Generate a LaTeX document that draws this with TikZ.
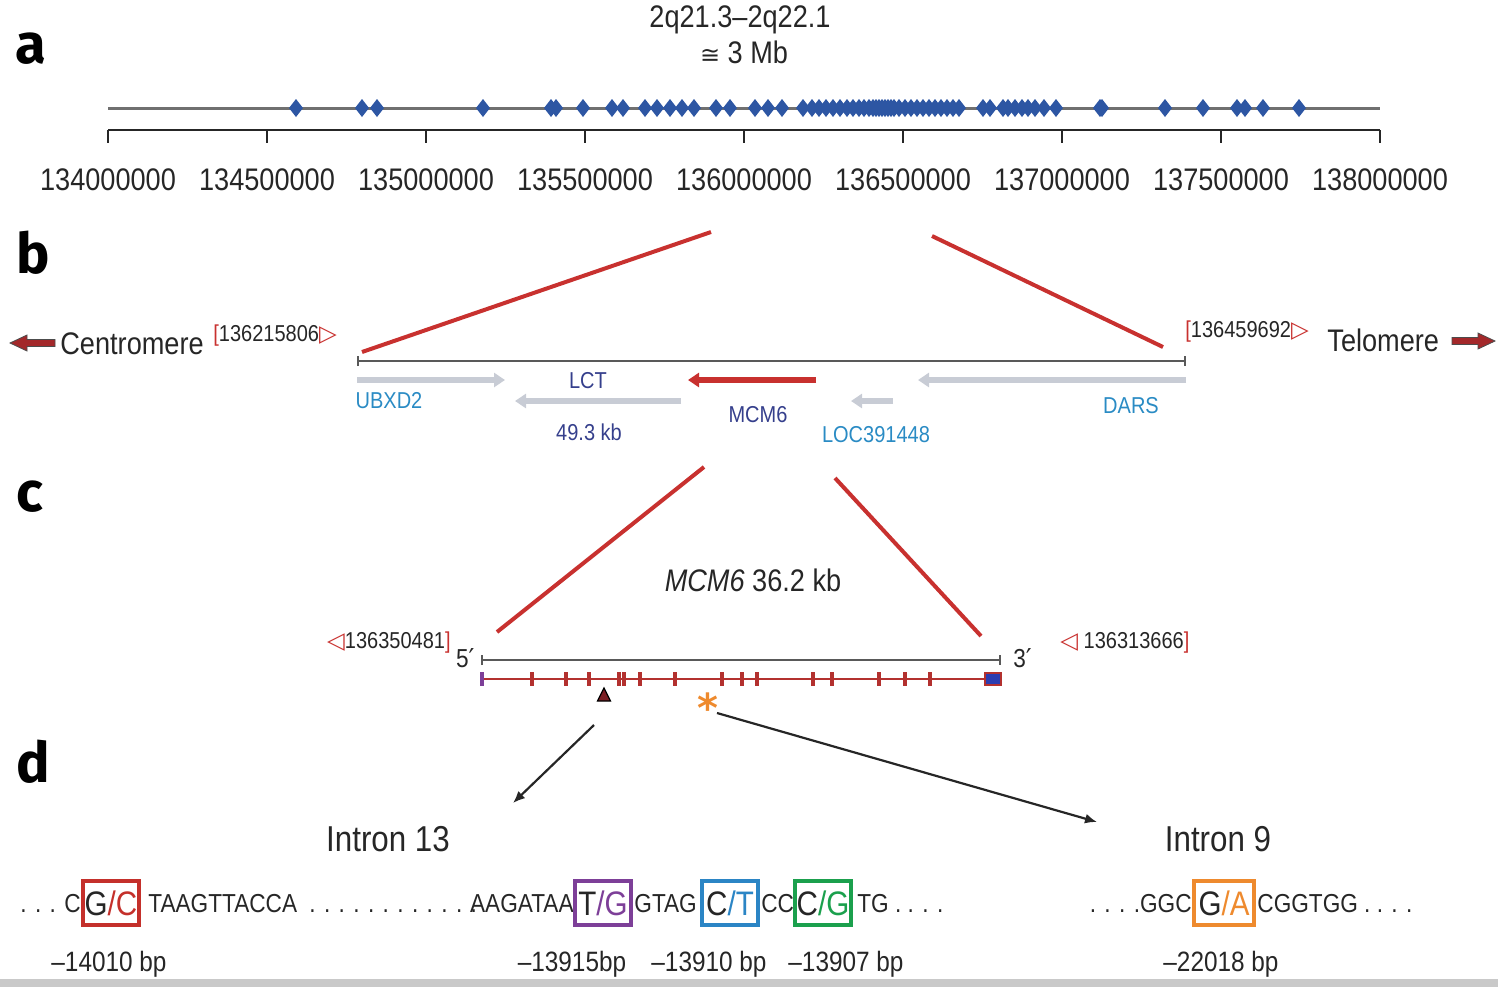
\documentclass[tikz,border=0pt]{standalone}
\usepackage{fontspec}
\setmainfont{Liberation Sans}[FakeStretch=0.87]
\newfontfamily\panelfont{Fira Sans}
\newfontfamily\symfont{DejaVu Sans}
\usetikzlibrary{arrows.meta}

\definecolor{zoomred}{HTML}{C8312F}
\definecolor{snpblue}{HTML}{2D56A3}
\definecolor{chromgray}{HTML}{707070}
\definecolor{genegray}{HTML}{C8CCD5}
\definecolor{geneblue}{HTML}{2A8BC4}
\definecolor{genenavy}{HTML}{353F8C}
\definecolor{exonred}{HTML}{B3312F}
\definecolor{exonblue}{HTML}{2C3DB0}
\definecolor{tridark}{HTML}{7B1F24}
\definecolor{darkarrow}{HTML}{A3282A}
\definecolor{boxred}{HTML}{C4302B}
\definecolor{boxpurple}{HTML}{7D3F98}
\definecolor{boxblue}{HTML}{2B85C5}
\definecolor{boxgreen}{HTML}{1BA04D}
\definecolor{boxorange}{HTML}{EE8A2E}
\definecolor{stripgray}{HTML}{C9C9C9}

\newcommand{\rtri}{{\symfont\textcolor{zoomred}{▷}}}
\newcommand{\ltri}{{\symfont\textcolor{zoomred}{◁}}}

\tikzset{
  panel/.style={font=\panelfont\bfseries\fontsize{28}{28}\selectfont, inner sep=0pt},
  bigtext/.style={font=\fontsize{15.6}{18}\selectfont, inner sep=0pt, text=black!85},
  coordtext/.style={font=\fontsize{11.5}{13}\selectfont, inner sep=0pt, text=black!85},
  genelbl/.style={font=\fontsize{11.5}{13}\selectfont, inner sep=0pt, anchor=base},
  seqtext/.style={font=\fontsize{13}{15}\selectfont, inner sep=0pt, text=black!85},
  bptext/.style={font=\fontsize{14}{16}\selectfont, inner sep=0pt, anchor=base, text=black!85},
  introntext/.style={font=\fontsize{18}{20}\selectfont, inner sep=0pt, anchor=base, text=black!85},
  snpbox/.style={font=\fontsize{17}{19}\selectfont, inner sep=0pt, line width=1.8pt,
    minimum width=28pt, minimum height=22pt, text=black!85},
  zoomline/.style={zoomred, line width=2pt},
  regionline/.style={black!65, line width=0.9pt, {Bar[width=5pt]}-{Bar[width=5pt]}},
  genearrow/.style={genegray, line width=2.7pt, -{Triangle[length=5.5pt,width=7pt]}},
  exontick/.style={exonred, line width=1.6pt},
  callarrow/.style={black!85, line width=1.1pt, -{Latex[length=6pt,width=5pt]}}
}

\begin{document}
\begin{tikzpicture}[x=0.5pt,y=-0.5pt]
\useasboundingbox (0,0) rectangle (1498,987);
\fill[stripgray] (0,979) rectangle (1498,987);

% a: chromosome band with SNPs
\node[panel] (pa) at (31,49) {a};
\node[bigtext, anchor=base] (band) at (740,27) {2q21.3–2q22.1};
\node[bigtext, anchor=base] (size) at (744,63) {{\symfont\fontsize{12}{14}\selectfont ≅} 3 Mb};

\draw[chromgray, line width=1.5pt] (108,108) -- (1380,108);
\foreach \x in {296,362,377,483,551,556,583,612,623,645,657,670,682,694,716,730,755,768,782,
                803,812,819,826,833,840,847,853,859,864,869,873,876,879,882,885,888,891,894,
                899,905,911,917,923,929,935,941,947,953,959,983,990,1003,1008,1015,1022,1028,
                1035,1044,1056,1100,1102,1165,1203,1237,1245,1263,1299}
  \fill[snpblue] (\x,99) -- (\x+7,108) -- (\x,117) -- (\x-7,108) -- cycle;

\draw[black!85, line width=1pt] (108,130) -- (1380,130);
\foreach \x/\v in {108/134000000,267/134500000,426/135000000,585/135500000,744/136000000,
                   903/136500000,1062/137000000,1221/137500000,1380/138000000} {
  \draw[black!85, line width=1pt] (\x,130) -- (\x,143);
  \node[bigtext, anchor=base] (t\v) at (\x,190) {\v};
}

% b: genes around MCM6
\node[panel] (pb) at (33,253) {b};
\coordinate (zt1) at (711,232);
\coordinate (zb1) at (362,352);
\coordinate (zt2) at (932,236);
\coordinate (zb2) at (1163,347);
\draw[zoomline] (zt1) -- (zb1);
\draw[zoomline] (zt2) -- (zb2);

\filldraw[fill=darkarrow, draw=black!70, line width=0.4pt]
  (55,339.5) -- (27,339.5) -- (27,335) -- (10,343) -- (27,351) -- (27,346.5) -- (55,346.5) -- cycle;
\node[bigtext, anchor=base west] (cen) at (60,354) {Centromere};
\node[coordtext, anchor=base west] (cpos) at (213,341) {\textcolor{zoomred}{[}136215806\rtri};

\node[coordtext, anchor=base west] (tpos) at (1185,337) {\textcolor{zoomred}{[}136459692\rtri};
\node[bigtext, anchor=base west] (tel) at (1327,351) {Telomere};
\filldraw[fill=darkarrow, draw=black!70, line width=0.4pt]
  (1452,337.5) -- (1478,337.5) -- (1478,333) -- (1495,341) -- (1478,349) -- (1478,344.5) -- (1452,344.5) -- cycle;

\draw[regionline] (357,361) -- (1186,361);

\draw[genearrow] (357,380) -- (505,380);
\draw[genearrow] (681,401) -- (515,401);
\draw[genearrow, zoomred] (816,380) -- (688,380);
\draw[genearrow] (893,401) -- (851,401);
\draw[genearrow] (1186,380) -- (918,380);

\node[genelbl, text=geneblue] (ubx) at (389,408) {UBXD2};
\node[genelbl, text=genenavy] (lct) at (588,388) {LCT};
\node[genelbl, text=genenavy] (lctsz) at (589,440) {49.3 kb};
\node[genelbl, text=genenavy] (mcm) at (758,422) {MCM6};
\node[genelbl, text=geneblue] (loc) at (876,442) {LOC391448};
\node[genelbl, text=geneblue] (dars) at (1131,413) {DARS};

% c: MCM6 exons
\node[panel] (pc) at (30,497) {c};
\coordinate (zt3) at (704,467);
\coordinate (zb3) at (497,632);
\coordinate (zt4) at (835,478);
\coordinate (zb4) at (981,636);
\draw[zoomline] (zt3) -- (zb3);
\draw[zoomline] (zt4) -- (zb4);

\node[bigtext, anchor=base] (mcmsz) at (753,591) {\textit{MCM6} 36.2 kb};
\node[coordtext, anchor=base east] (spos) at (451,648) {\ltri136350481\textcolor{zoomred}{]}};
\node[coordtext, anchor=base west] (epos) at (1060,648) {\ltri\ 136313666\textcolor{zoomred}{]}};
\node[coordtext, font=\fontsize{13}{15}\selectfont, anchor=base east] (five) at (475,667) {5{\symfont′}};
\node[coordtext, font=\fontsize{13}{15}\selectfont, anchor=base west] (three) at (1013,667) {3{\symfont′}};

\draw[regionline] (481,660) -- (1001,660);
\draw[exonred, line width=1pt] (481,679) -- (985,679);
\draw[exontick, boxpurple] (482,672) -- (482,686);
\foreach \x in {532,566,589,619,624,640,675,722,742,757,813,832,879,905,930}
  \draw[exontick] (\x,672) -- (\x,686);
\filldraw[fill=exonblue, draw=exonred, line width=0.8pt] (985,673) rectangle (1001,685);

\filldraw[fill=tridark, draw=black, line width=0.6pt] (597.5,701) -- (610.5,701) -- (604,688) -- cycle;
\node[inner sep=0pt, text=boxorange, font=\symfont\bfseries\fontsize{20}{20}\selectfont] (star) at (708,708) {*};

% d: SNP sequences
\node[panel] (pd) at (33,762) {d};
\coordinate (as1) at (594,725);
\coordinate (ae1) at (513,803);
\coordinate (as2) at (717,713);
\coordinate (ae2) at (1097,822);
\draw[callarrow] (as1) -- (ae1);
\draw[callarrow] (as2) -- (ae2);

\node[introntext] (i13) at (388,851) {Intron 13};
\node[introntext] (i9) at (1218,851) {Intron 9};

\node[seqtext, anchor=base west] (q1) at (20,912) {. . . C};
\node[snpbox, draw=boxred] (g1) at (111,903) {G\textcolor{boxred}{/C}};
\node[seqtext, anchor=base west] (q2) at (148,912) {TAAGTTACCA};
\node[seqtext, anchor=base west] (q3) at (309,912) {. . . . . . . . . . . .};
\node[seqtext, anchor=base east] (q4) at (574,912) {AAGATAA};
\node[snpbox, draw=boxpurple] (g2) at (603,903) {T\textcolor{boxpurple}{/G}};
\node[seqtext, anchor=base west] (q5) at (634,912) {GTAG};
\node[snpbox, draw=boxblue] (g3) at (730,903) {C\textcolor{boxblue}{/T}};
\node[seqtext, anchor=base west] (q6) at (761,912) {CC};
\node[snpbox, draw=boxgreen] (g4) at (823,903) {C\textcolor{boxgreen}{/G}};
\node[seqtext, anchor=base west] (q7) at (857,912) {TG . . . .};
\node[seqtext, anchor=base east] (q8) at (1192,912) {. . . .GGC};
\node[snpbox, draw=boxorange, minimum width=30pt] (g5) at (1224,903) {G\textcolor{boxorange}{/A}};
\node[seqtext, anchor=base west] (q9) at (1257,912) {CGGTGG . . . .};

\node[bptext] (p1) at (109,971) {–14010 bp};
\node[bptext] (p2) at (572,971) {–13915bp};
\node[bptext] (p3) at (709,971) {–13910 bp};
\node[bptext] (p4) at (846,971) {–13907 bp};
\node[bptext] (p5) at (1221,971) {–22018 bp};
\end{tikzpicture}
\end{document}
